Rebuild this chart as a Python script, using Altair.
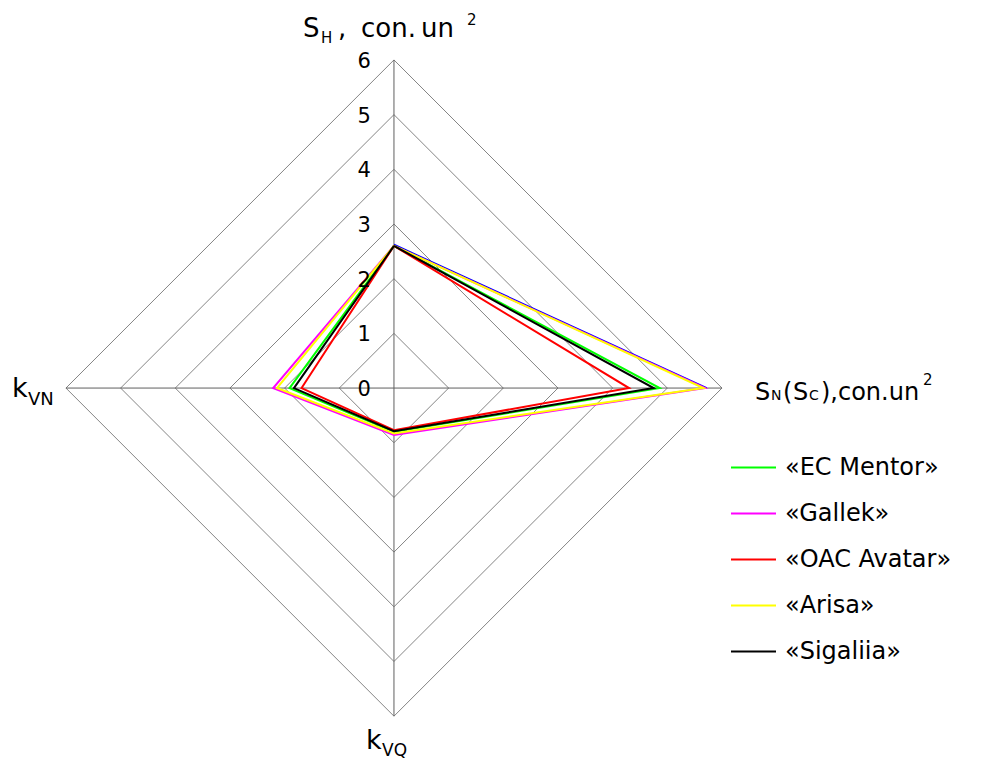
import altair as alt
import pandas as pd

# ---- data ----
axes_names = ["S_H", "S_N", "k_VQ", "k_VN"]
series = ["«EC Mentor»", "«Gallek»", "«OAC Avatar»", "«Arisa»", "«Sigaliia»"]
colors = ["#00ff00", "#ff00ff", "#ff0000", "#ffff00", "#000000"]
s_h = [2.6, 2.6, 2.6, 2.6, 2.6]
s_n = [4.86, 5.69, 4.30, 5.66, 4.75]
k_vq = [0.80, 0.86, 0.77, 0.83, 0.79]
k_vn = [1.91, 2.21, 1.69, 2.14, 1.83]
# extra blue segment (top -> right) visible under «Gallek»
blue_s_h = 2.62
blue_s_n = 5.72
ticks = [0, 1, 2, 3, 4, 5, 6]

FONT = "DejaVu Sans"

# ---- build tables ----
rows = []
for i, name in enumerate(series):
    pts = [(0, s_h[i]), (s_n[i], 0), (0, -k_vq[i]), (-k_vn[i], 0), (0, s_h[i])]
    for j, (x, y) in enumerate(pts):
        rows.append({"series": name, "x": x, "y": y, "o": j, "rank": i})
df = pd.DataFrame(rows)

blue_df = pd.DataFrame({"x": [0, blue_s_n], "y": [blue_s_h, 0], "o": [0, 1]})

grid_rows = []
for r in ticks[1:]:
    for j, (x, y) in enumerate([(0, r), (r, 0), (0, -r), (-r, 0), (0, r)]):
        grid_rows.append({"r": r, "x": x, "y": y, "o": j})
grid_df = pd.DataFrame(grid_rows)

rmax = ticks[-1]
spoke_df = pd.DataFrame({
    "s": ["h", "h", "v", "v"],
    "x": [-rmax, rmax, 0, 0],
    "y": [0, 0, -rmax, rmax],
    "o": [0, 1, 0, 1],
})

tick_df = pd.DataFrame({"x": [0] * len(ticks), "y": ticks, "t": [str(t) for t in ticks]})

W, H = 960, 753
xs = alt.Scale(domain=[-7.06, 10.5], nice=False, zero=False)
ys = alt.Scale(domain=[-6.82, 6.95], nice=False, zero=False)

grid = alt.Chart(grid_df).mark_line(color="#858585", strokeWidth=1).encode(
    x=alt.X("x:Q", scale=xs, axis=None),
    y=alt.Y("y:Q", scale=ys, axis=None),
    detail="r:N",
    order="o:Q",
)
spokes = alt.Chart(spoke_df).mark_line(color="#606060", strokeWidth=1).encode(
    x=alt.X("x:Q", scale=xs, axis=None),
    y=alt.Y("y:Q", scale=ys, axis=None),
    detail="s:N",
    order="o:Q",
)
blue = alt.Chart(blue_df).mark_line(color="#0000ff", strokeWidth=2).encode(
    x=alt.X("x:Q", scale=xs, axis=None),
    y=alt.Y("y:Q", scale=ys, axis=None),
    order="o:Q",
)
lines = alt.Chart(df).mark_line(strokeWidth=2).encode(
    x=alt.X("x:Q", scale=xs, axis=None),
    y=alt.Y("y:Q", scale=ys, axis=None),
    color=alt.Color(
        "series:N",
        scale=alt.Scale(domain=series, range=colors),
        sort=series,
        legend=alt.Legend(
            orient="none", legendX=722, legendY=436, title=None,
            symbolType="stroke", symbolSize=2025, symbolStrokeWidth=2,
            labelFont=FONT, labelFontSize=24, labelColor="#000000",
            labelOffset=8, padding=0, rowPadding=10, labelLimit=0,
        ),
    ),
    detail="series:N",
    order="o:Q",
)
tick_text = alt.Chart(tick_df).mark_text(
    align="right", baseline="middle", dx=-23, dy=2, font=FONT, fontSize=21, color="#000000"
).encode(
    x=alt.X("x:Q", scale=xs, axis=None),
    y=alt.Y("y:Q", scale=ys, axis=None),
    text="t:N",
)


def txt(s, x, y, size, align="left", baseline="alphabetic"):
    return alt.Chart(pd.DataFrame({"t": [s]})).mark_text(
        align=align, baseline=baseline, font=FONT, fontSize=size, color="#000000"
    ).encode(x=alt.value(x), y=alt.value(y), text="t:N")


labels = [
    # top title: S_H, con. un²
    txt("S", 295, 29, 26),
    txt("H", 313, 35, 15),
    txt(",", 330, 29, 26),
    txt("con.", 353, 29, 26),
    txt("un", 413, 29, 26),
    txt("2", 459, 17, 15),
    # right title: S_N(S_C),con.un²
    txt("S", 747, 392, 24),
    txt("N", 763, 392, 14),
    txt("(", 775, 392, 24),
    txt("S", 785, 392, 24),
    txt("C", 801, 392, 14),
    txt("),con.un", 813, 392, 24),
    txt("2", 915, 377, 15),
    # left title: k_VN
    txt("k", 4, 389, 27),
    txt("VN", 20, 397, 18),
    # bottom title: k_VQ
    txt("k", 358, 741, 27),
    txt("VQ", 374, 748, 17),
]

chart = alt.layer(grid, spokes, blue, lines, tick_text, *labels).properties(
    width=W, height=H, autosize=alt.AutoSizeParams(type="none"), padding=0
).configure_view(stroke=None)

chart.save("out.html", embed_options={"renderer": "svg", "actions": False})
